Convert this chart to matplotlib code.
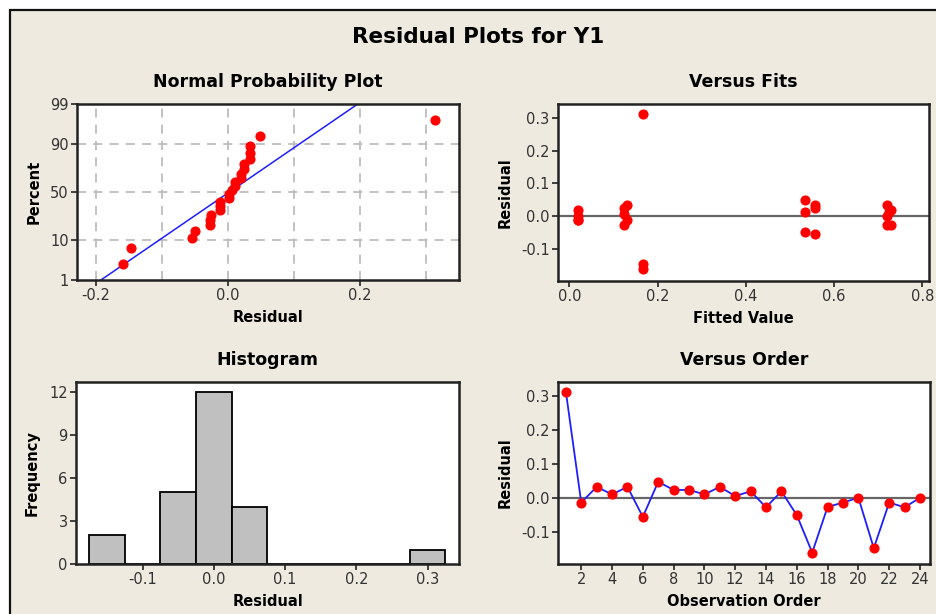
import matplotlib
matplotlib.use("Agg")
import matplotlib.pyplot as plt
from matplotlib.patches import Rectangle
import numpy as np
from statistics import NormalDist

# ---- data ----
order = list(range(1, 25))
residuals = [0.313, -0.013, 0.033, 0.011, 0.033, -0.055, 0.048, 0.024,
             0.024, 0.011, 0.033, 0.006, 0.020, -0.027, 0.020, -0.050,
             -0.160, -0.026, -0.013, 0.001, -0.147, -0.013, -0.027, 0.001]
fitted = [0.167, 0.020, 0.130, 0.535, 0.557, 0.557, 0.535, 0.557,
          0.125, 0.725, 0.720, 0.125, 0.020, 0.720, 0.728, 0.535,
          0.167, 0.125, 0.130, 0.720, 0.167, 0.020, 0.728, 0.020]
hist_edges = [-0.175, -0.125, -0.075, -0.025, 0.025, 0.075, 0.125, 0.175,
              0.225, 0.275, 0.325]
npp_yticks = [1, 10, 50, 90, 99]

W, H = 936, 614
BG = "#EEEAE0"
RED = "#FF0000"
BLUE = "#1E1EFF"
TICKC = "#333333"

fig = plt.figure(figsize=(W / 100, H / 100), dpi=100)
fig.patch.set_facecolor("white")

# beige panel with border (right and bottom edges run off the figure)
panel = Rectangle((9.5 / W, -0.05), 1.2, 1 - 9.5 / H + 0.05,
                  transform=fig.transFigure, facecolor=BG,
                  edgecolor="#111111", linewidth=1.6, zorder=-10)
fig.patches.append(panel)


def rect(l, t, r, b):
    return [l / W, 1 - b / H, (r - l) / W, (b - t) / H]


def style(ax):
    ax.set_facecolor("white")
    for s in ax.spines.values():
        s.set_linewidth(1.8)
        s.set_color("#222222")
    ax.tick_params(direction="out", length=4, width=1.2, color="#222222",
                   labelsize=10.5, labelcolor=TICKC, top=False, right=False,
                   pad=2)


TFS = 12.5
LFS = 10.5
MS = 6.3

fig.text(478 / W, 1 - 37 / H, "Residual Plots for Y1", ha="center",
         va="center", fontsize=15.5, fontweight="bold")

# ---- Normal probability plot ----
nd = NormalDist()
ax1 = fig.add_axes(rect(77, 104, 459, 280))
style(ax1)
n = len(residuals)
srt = np.sort(residuals)
probs = [(i + 1 - 0.3) / (n + 0.4) for i in range(n)]
zs = [nd.inv_cdf(p) for p in probs]
mu = float(np.mean(residuals))
sd = float(np.std(residuals, ddof=1))
zlo, zhi = nd.inv_cdf(0.01), nd.inv_cdf(0.99)
for xv in [-0.2, -0.1, 0.0, 0.1, 0.2, 0.3]:
    ax1.axvline(xv, color="#BDBDBD", lw=1.3, ls=(0, (5, 4)), zorder=0)
for yv in [10, 50, 90]:
    ax1.axhline(nd.inv_cdf(yv / 100), color="#BDBDBD", lw=1.3,
                ls=(0, (5, 4)), zorder=0)
ax1.plot([mu + zlo * sd, mu + zhi * sd], [zlo, zhi], color=BLUE, lw=1.1,
         zorder=2)
ax1.plot(srt, zs, "o", color=RED, ms=MS, mec=RED, zorder=3)
ax1.set_xlim(-0.229, 0.35)
ax1.set_ylim(zlo, zhi)
ax1.set_xticks([-0.2, 0.0, 0.2])
ax1.set_xticklabels(["-0.2", "0.0", "0.2"])
ax1.set_yticks([nd.inv_cdf(p / 100) for p in npp_yticks])
ax1.set_yticklabels([str(p) for p in npp_yticks])
ax1.set_title("Normal Probability Plot", fontsize=TFS, fontweight="bold",
              pad=12)
ax1.set_xlabel("Residual", fontsize=LFS, fontweight="bold", labelpad=5)
ax1.set_ylabel("Percent", fontsize=LFS, fontweight="bold", labelpad=6)

# ---- Versus fits ----
ax2 = fig.add_axes(rect(558, 104, 929, 281))
style(ax2)
ax2.axhline(0, color="#666666", lw=1.6, zorder=1)
ax2.plot(fitted, residuals, "o", color=RED, ms=MS, mec=RED, zorder=3)
ax2.set_xlim(-0.0256, 0.815)
ax2.set_ylim(-0.198, 0.342)
ax2.set_xticks([0.0, 0.2, 0.4, 0.6, 0.8])
ax2.set_xticklabels(["0.0", "0.2", "0.4", "0.6", "0.8"])
ax2.set_yticks([-0.1, 0.0, 0.1, 0.2, 0.3])
ax2.set_yticklabels(["-0.1", "0.0", "0.1", "0.2", "0.3"])
ax2.set_title("Versus Fits", fontsize=TFS, fontweight="bold", pad=12)
ax2.set_xlabel("Fitted Value", fontsize=LFS, fontweight="bold", labelpad=5)
ax2.set_ylabel("Residual", fontsize=LFS, fontweight="bold", labelpad=6)

# ---- Histogram ----
ax3 = fig.add_axes(rect(76, 382, 459, 564))
style(ax3)
ax3.hist(residuals, bins=hist_edges, color="#C0C0C0", edgecolor="black",
         linewidth=1.3, zorder=2)
ax3.set_xlim(-0.1936, 0.344)
ax3.set_ylim(0, 12.72)
ax3.set_xticks([-0.1, 0.0, 0.1, 0.2, 0.3])
ax3.set_xticklabels(["-0.1", "0.0", "0.1", "0.2", "0.3"])
ax3.set_yticks([0, 3, 6, 9, 12])
ax3.set_title("Histogram", fontsize=TFS, fontweight="bold", pad=12)
ax3.set_xlabel("Residual", fontsize=LFS, fontweight="bold", labelpad=5)
ax3.set_ylabel("Frequency", fontsize=LFS, fontweight="bold", labelpad=7)

# ---- Versus order ----
ax4 = fig.add_axes(rect(558, 382, 930, 564))
style(ax4)
ax4.axhline(0, color="#666666", lw=1.6, zorder=1)
ax4.plot(order, residuals, "-", color=BLUE, lw=1.3, zorder=2)
ax4.plot(order, residuals, "o", color=RED, ms=MS, mec=RED, zorder=3)
ax4.set_xlim(0.49, 24.65)
ax4.set_ylim(-0.1935, 0.341)
ax4.set_xticks(list(range(2, 25, 2)))
ax4.set_yticks([-0.1, 0.0, 0.1, 0.2, 0.3])
ax4.set_yticklabels(["-0.1", "0.0", "0.1", "0.2", "0.3"])
ax4.set_title("Versus Order", fontsize=TFS, fontweight="bold", pad=12)
ax4.set_xlabel("Observation Order", fontsize=LFS, fontweight="bold",
               labelpad=5)
ax4.set_ylabel("Residual", fontsize=LFS, fontweight="bold", labelpad=6)

fig.savefig("out.png", dpi=100, facecolor=fig.get_facecolor())
